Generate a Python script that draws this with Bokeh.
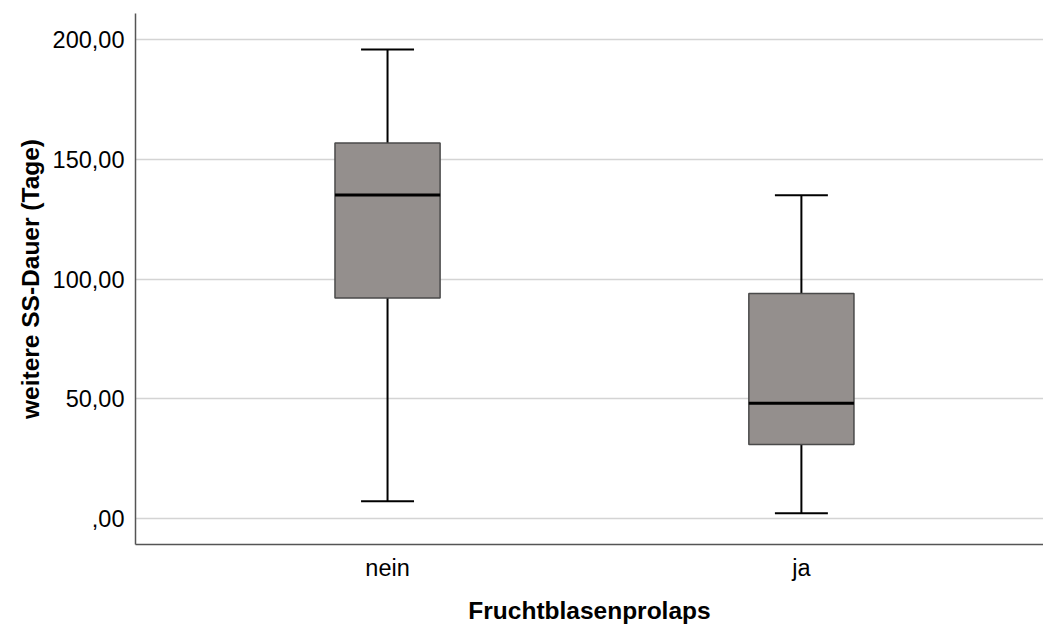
from bokeh.plotting import figure
from bokeh.models import FixedTicker, ColumnDataSource, Range1d
from bokeh.embed import file_html
from bokeh.resources import INLINE

# Five-number summaries per group (days)
categories = ["nein", "ja"]
whisker_low = [7.1, 2.1]
q1 = [92.1, 30.8]
median = [135.1, 48.1]
q3 = [156.9, 93.9]
whisker_high = [196.0, 135.0]

y_ticks = [0, 50, 100, 150, 200]
y_tick_labels = [",00", "50,00", "100,00", "150,00", "200,00"]

x_title = "Fruchtblasenprolaps"
y_title = "weitere SS-Dauer (Tage)"

xs = [i + 1 for i in range(len(categories))]
box_w = 0.254
cap_w = 0.128

src = ColumnDataSource(dict(
    x=xs, lo=whisker_low, q1=q1, med=median, q3=q3, hi=whisker_high,
    cap_l=[x - cap_w / 2 for x in xs], cap_r=[x + cap_w / 2 for x in xs],
    box_l=[x - box_w / 2 for x in xs], box_r=[x + box_w / 2 for x in xs],
))

p = figure(width=1043, height=626, output_backend="svg", toolbar_location=None,
           x_range=Range1d(0.391, 2.585), y_range=Range1d(-11, 211),
           min_border_left=135, min_border_right=0, min_border_top=13,
           min_border_bottom=82)
p.outline_line_color = None
p.background_fill_color = "white"
p.border_fill_color = "white"

# whiskers
p.segment(x0="x", y0="q3", x1="x", y1="hi", source=src, line_color="black", line_width=2)
p.segment(x0="x", y0="lo", x1="x", y1="q1", source=src, line_color="black", line_width=2)
p.segment(x0="cap_l", y0="hi", x1="cap_r", y1="hi", source=src, line_color="black", line_width=2)
p.segment(x0="cap_l", y0="lo", x1="cap_r", y1="lo", source=src, line_color="black", line_width=2)

# boxes
p.quad(left="box_l", right="box_r", bottom="q1", top="q3", source=src,
       fill_color="#948f8d", line_color="#4a4a4a", line_width=1.5)
# medians
p.segment(x0="box_l", y0="med", x1="box_r", y1="med", source=src,
          line_color="black", line_width=3)

# axes
p.xaxis.ticker = FixedTicker(ticks=xs)
p.xaxis.major_label_overrides = {x: c for x, c in zip(xs, categories)}
p.yaxis.ticker = FixedTicker(ticks=y_ticks)
p.yaxis.major_label_overrides = {t: l for t, l in zip(y_ticks, y_tick_labels)}

for ax in (p.xaxis, p.yaxis):
    ax.axis_line_color = "#555555"
    ax.axis_line_width = 1.5
    ax.major_tick_line_color = None
    ax.minor_tick_line_color = None
    ax.major_label_text_font = "Liberation Sans"
    ax.major_label_text_font_size = "23.5px"
    ax.major_label_text_color = "black"
    ax.axis_label_text_font = "Liberation Sans"
    ax.axis_label_text_font_size = "24.5px"
    ax.axis_label_text_font_style = "bold"
    ax.axis_label_text_color = "black"

p.xaxis.axis_label = x_title
p.yaxis.axis_label = y_title
p.xaxis.major_label_standoff = 4
p.xaxis.axis_label_standoff = 13
p.yaxis.major_label_standoff = 5
p.yaxis.axis_label_standoff = 6

p.xgrid.grid_line_color = None
p.ygrid.grid_line_color = "#d4d4d4"
p.ygrid.grid_line_width = 1.5

open("out.html", "w").write(file_html(p, INLINE))
